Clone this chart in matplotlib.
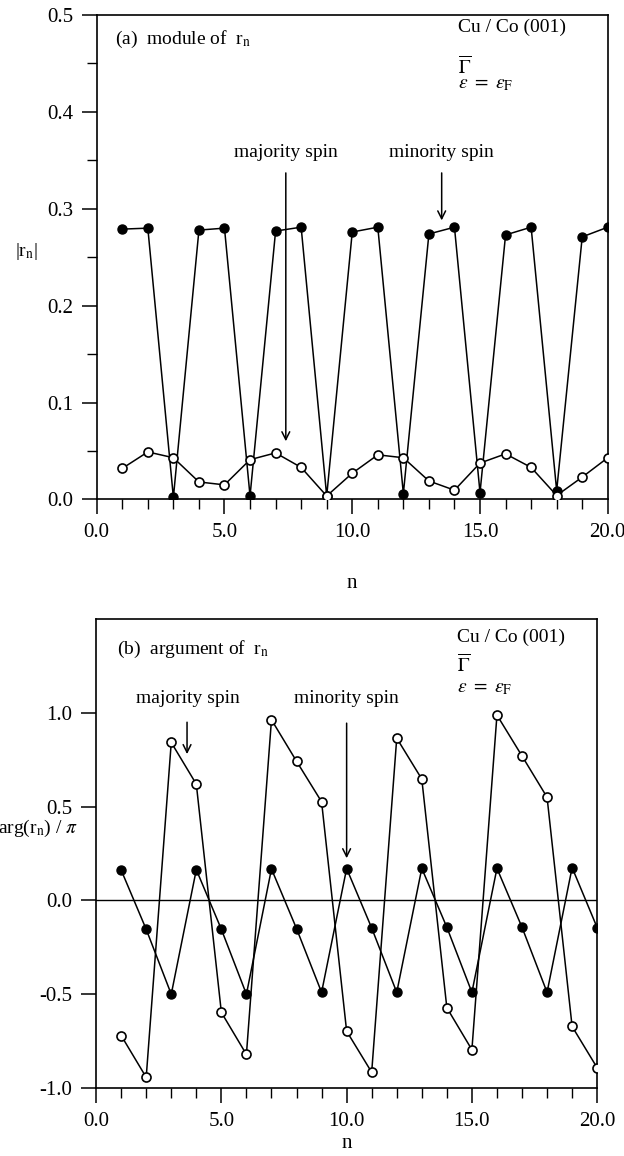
import matplotlib
matplotlib.use("Agg")
import matplotlib.pyplot as plt
from matplotlib.ticker import MultipleLocator, FormatStrFormatter

plt.rcParams["font.family"] = ["Liberation Serif", "DejaVu Serif"]
plt.rcParams["mathtext.fontset"] = "stix"

n = list(range(1, 21))

# (a) |r_n|
mod_filled = [0.279, 0.280, 0.002, 0.278, 0.280, 0.0035, 0.277, 0.281, 0.0035, 0.276,
              0.281, 0.006, 0.274, 0.281, 0.007, 0.273, 0.281, 0.009, 0.271, 0.281]
mod_open = [0.032, 0.049, 0.043, 0.018, 0.015, 0.041, 0.048, 0.033, 0.0035, 0.027,
            0.046, 0.043, 0.019, 0.0095, 0.0375, 0.047, 0.033, 0.004, 0.023, 0.043]

# (b) arg(r_n)/pi
arg_filled = [0.162, -0.154, -0.50, 0.164, -0.154, -0.50, 0.168, -0.150, -0.49, 0.170,
              -0.147, -0.49, 0.171, -0.143, -0.49, 0.171, -0.143, -0.49, 0.175, -0.145]
arg_open = [-0.72, -0.943, 0.842, 0.62, -0.597, -0.821, 0.963, 0.742, 0.526, -0.697,
            -0.916, 0.865, 0.647, -0.572, -0.796, 0.988, 0.77, 0.55, -0.672, -0.892]

FS = 15
fig = plt.figure(figsize=(6.24, 11.56), dpi=100)
ax1 = fig.add_axes([0.155, 0.568, 0.819, 0.419])
ax2 = fig.add_axes([0.154, 0.0588, 0.803, 0.4057])


def style(ax):
    for s in ax.spines.values():
        s.set_linewidth(1.2)
    ax.tick_params(which="major", direction="out", length=11, width=1.1,
                   labelsize=FS, pad=6, top=False, right=False)
    ax.tick_params(which="minor", direction="out", length=7, width=1.0,
                   top=False, right=False)
    ax.set_xlim(0, 20)
    ax.xaxis.set_major_locator(MultipleLocator(5))
    ax.xaxis.set_minor_locator(MultipleLocator(1))
    ax.xaxis.set_major_formatter(FormatStrFormatter("%.1f"))
    ax.yaxis.set_major_formatter(FormatStrFormatter("%.1f"))
    ax.set_xlabel("n", fontsize=FS)


def series(ax, yf, yo):
    ax.plot(n, yf, color="black", lw=1.1, marker="o", ms=6.5,
            mfc="black", mec="black", zorder=3)
    ax.plot(n, yo, color="black", lw=1.1, marker="o", ms=6.5,
            mfc="white", mec="black", mew=1.2, zorder=3)


def arrow(ax, x, y0, y1):
    ax.annotate("", xy=(x, y1), xytext=(x, y0),
                arrowprops=dict(arrowstyle="->", lw=1.1, color="black",
                                shrinkA=0, shrinkB=0, mutation_scale=14))


# panel (a)
style(ax1)
series(ax1, mod_filled, mod_open)
ax1.set_ylim(0, 0.5)
ax1.yaxis.set_major_locator(MultipleLocator(0.1))
ax1.yaxis.set_minor_locator(MultipleLocator(0.05))
ax1.xaxis.set_label_coords(0.5, -0.155)
ax1.set_ylabel(r"|r$_{\rm n}$|", fontsize=FS - 1, rotation=0)
ax1.yaxis.set_label_coords(-0.137, 0.49)
ax1.text(0.7, 0.475, r"(a)  module of  r$_{\rm n}$", fontsize=FS - 1, va="center")
ax1.text(14.15, 0.487, "Cu / Co (001)", fontsize=FS - 1, va="center")
ax1.text(14.15, 0.447, r"$\overline{\Gamma}$", fontsize=FS - 1, va="center")
ax1.text(14.15, 0.428, r"$\varepsilon\ =\ \varepsilon_{\rm F}$", fontsize=FS - 1, va="center")
ax1.text(7.4, 0.358, "majority spin", fontsize=FS - 1, ha="center", va="center")
ax1.text(13.5, 0.358, "minority spin", fontsize=FS - 1, ha="center", va="center")
arrow(ax1, 7.4, 0.337, 0.06)
arrow(ax1, 13.5, 0.337, 0.288)

# panel (b)
style(ax2)
series(ax2, arg_filled, arg_open)
ax2.axhline(0, color="black", lw=1.0, zorder=1)
ax2.set_ylim(-1.0, 1.5)
ax2.set_yticks([-1.0, -0.5, 0.0, 0.5, 1.0])
ax2.xaxis.set_label_coords(0.5, -0.097)
ax2.set_ylabel(r"arg(r$_{\rm n}$) / $\pi$", fontsize=FS - 1, rotation=0)
ax2.yaxis.set_label_coords(-0.116, 0.53)
ax2.text(0.83, 1.337, r"(b)  argument of  r$_{\rm n}$", fontsize=FS - 1, va="center")
ax2.text(14.4, 1.40, "Cu / Co (001)", fontsize=FS - 1, va="center")
ax2.text(14.4, 1.26, r"$\overline{\Gamma}$", fontsize=FS - 1, va="center")
ax2.text(14.4, 1.13, r"$\varepsilon\ =\ \varepsilon_{\rm F}$", fontsize=FS - 1, va="center")
ax2.text(3.65, 1.075, "majority spin", fontsize=FS - 1, ha="center", va="center")
ax2.text(10.0, 1.075, "minority spin", fontsize=FS - 1, ha="center", va="center")
arrow(ax2, 3.63, 0.95, 0.78)
arrow(ax2, 10.0, 0.945, 0.225)

fig.savefig("out.png", dpi=100)
plt.close(fig)
